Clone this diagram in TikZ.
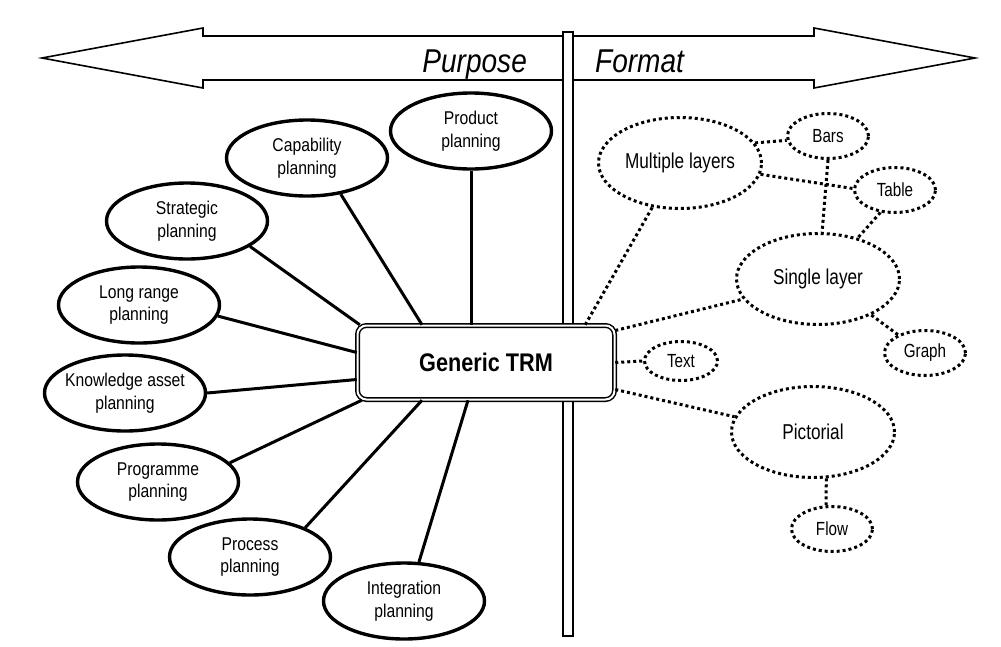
\documentclass[tikz,border=0pt]{standalone}
\usepackage{fontspec}
\setmainfont{Liberation Sans}[FakeStretch=0.85]
\newfontfamily\formatfont{Liberation Sans}[FakeStretch=0.8]
\usetikzlibrary{shapes.geometric,calc}

\tikzset{every picture/.style={line width=1.6pt}}
\tikzset{
  planbubble/.style={ellipse, draw, line width=3.4pt, fill=white, minimum width=161pt, minimum height=76pt, inner xsep=-6pt, inner ysep=0pt, align=center, font=\fontsize{18.5}{22.5}\selectfont},
  formatbubble/.style={ellipse, draw, line width=3pt, dash pattern=on 3pt off 3pt, fill=white, minimum width=163pt, minimum height=91pt, inner sep=0pt, font=\formatfont\fontsize{21.5}{25}\selectfont},
  formatdot/.style={formatbubble, minimum width=81pt, minimum height=45pt, font=\formatfont\fontsize{19}{22}\selectfont},
  solidlink/.style={line width=3pt},
  dottedlink/.style={line width=3pt, dash pattern=on 3pt off 3pt},
}

\begin{document}
\begin{tikzpicture}[x=1pt,y=1pt,yscale=-1]
\useasboundingbox (0,0) rectangle (1001,646);

%Shape: Double Arrow
\draw   (42,58) -- (203,28) -- (203,36) -- (814,36) -- (814,28) -- (975,58) -- (814,88) -- (814,80) -- (203,80) -- (203,88) -- cycle ;
%Shape: Rectangle
\draw [fill=white]  (563,32) rectangle (573,636) ;

% Text Node
\node (purp) [anchor=base east, font=\itshape\fontsize{33}{38}\selectfont] at (531,72) {Purpose};
% Text Node
\node (fmt) [anchor=base west, font=\itshape\fontsize{33}{38}\selectfont] at (591,72) {Format};

%Shape: Rounded Rectangle
\node (trm) [draw, double, double distance=2pt, line width=1.5pt, rounded corners=9pt, fill=white, minimum width=257pt, minimum height=74pt, inner sep=0pt, font=\bfseries\fontsize{25.5}{30}\selectfont] at (486,362.5) {Generic TRM};

%Shape: Ellipse
\node (product) [planbubble] at (471,131) {Product\\planning};
%Shape: Ellipse
\node (capability) [planbubble] at (307,158) {Capability\\planning};
%Shape: Ellipse
\node (strategic) [planbubble] at (187,221) {Strategic\\planning};
%Shape: Ellipse
\node (longrange) [planbubble] at (139,305) {Long range\\planning};
%Shape: Ellipse
\node (knowledge) [planbubble] at (125,393) {Knowledge asset\\planning};
%Shape: Ellipse
\node (programme) [planbubble] at (158,482) {Programme\\planning};
%Shape: Ellipse
\node (process) [planbubble] at (250,557) {Process\\planning};
%Shape: Ellipse
\node (integration) [planbubble] at (404,601) {Integration\\planning};

%Shape: Ellipse
\node (multi) [formatbubble] at (680,163) {Multiple layers};
%Shape: Ellipse
\node (bars) [formatdot] at (828,136) {Bars};
%Shape: Ellipse
\node (table) [formatdot] at (895,190) {Table};
%Shape: Ellipse
\node (single) [formatbubble] at (818,279) {Single layer};
%Shape: Ellipse
\node (graph) [formatdot] at (925,353) {Graph};
%Shape: Ellipse
\node (txt) [formatdot, minimum width=73pt, minimum height=39pt] at (681,361) {Text};
%Shape: Ellipse
\node (pictorial) [formatbubble] at (813,432) {Pictorial};
%Shape: Ellipse
\node (flow) [formatdot] at (832,529) {Flow};

%Straight Lines
\draw [solidlink] (product.south) -- ($(trm.north)+(-15,0)$) ;
%Straight Lines
\draw [solidlink] (capability.-47) -- ($(trm.north)+(-64,0)$) ;
%Straight Lines
\draw [solidlink] (strategic.-22) -- ($(trm.north west)+(3,0)$) ;
%Straight Lines
\draw [solidlink] (longrange.-8) -- ($(trm.west)+(0,-10)$) ;
%Straight Lines
\draw [solidlink] (knowledge.east) -- ($(trm.west)+(0,17)$) ;
%Straight Lines
\draw [solidlink] (programme.15) -- ($(trm.south west)+(5,0)$) ;
%Straight Lines
\draw [solidlink] (process.28) -- ($(trm.south)+(-64,0)$) ;
%Straight Lines
\draw [solidlink] (integration.69) -- ($(trm.south)+(-18,0)$) ;

%Straight Lines
\draw [dottedlink] ($(trm.north east)+(-30,0)$) -- (multi.238) ;
%Straight Lines
\draw [dottedlink] ($(trm.east)+(0,-32)$) -- (single.195) ;
%Straight Lines
\draw [dottedlink] (trm.east) -- (txt.west) ;
%Straight Lines
\draw [dottedlink] ($(trm.east)+(0,27)$) -- (pictorial.169) ;
%Straight Lines
\draw [dottedlink] (multi.15) -- (bars.186) ;
%Straight Lines
\draw [dottedlink] (multi.-8) -- (table.178) ;
%Straight Lines
\draw [dottedlink] (bars.south) -- (single.85) ;
%Straight Lines
\draw [dottedlink] (table.237) -- (single.46) ;
%Straight Lines
\draw [dottedlink] (single.-34) -- (graph.146) ;
%Straight Lines
\draw [dottedlink] (pictorial.-74) -- (flow.104) ;

\end{tikzpicture}
\end{document}
